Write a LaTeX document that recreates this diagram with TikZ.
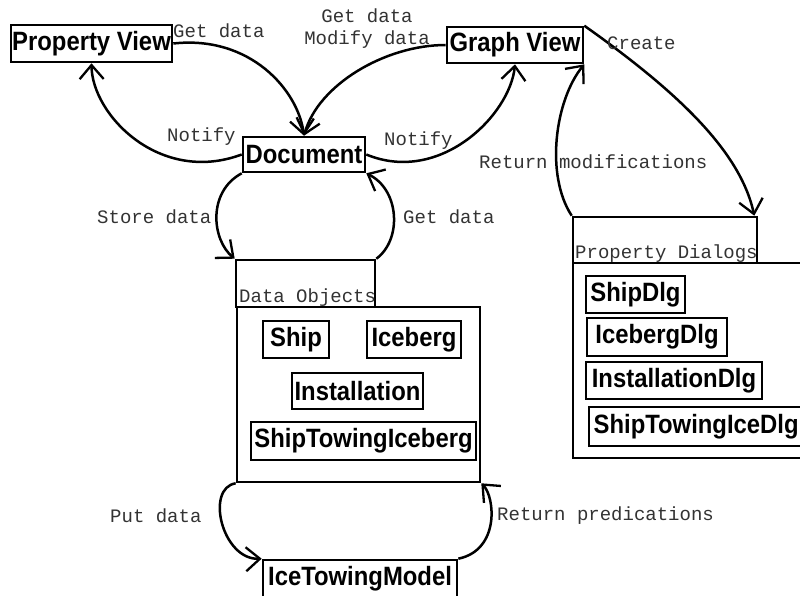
\documentclass[tikz,border=0pt]{standalone}
\usepackage{fontspec}
\usepackage{graphicx}
\newfontfamily\monofnt{Liberation Mono}
\newfontfamily\sansfnt{Liberation Sans}
\newcommand{\narrow}[1]{\scalebox{0.9}[1]{#1}}
\usetikzlibrary{arrows.meta,calc}
\begin{document}
\begin{tikzpicture}[x=1pt,y=-1pt,
  box/.style={draw, line width=2.6pt, inner sep=0pt,
    font=\sansfnt\bfseries\fontsize{26.5}{28}\selectfont},
  item/.style={draw, line width=2.2pt, inner sep=0pt,
    font=\sansfnt\bfseries\fontsize{26.5}{28}\selectfont},
  pkg/.style={draw, line width=2.6pt, inner sep=0pt},
  lbl/.style={inner sep=0pt, text=black!80,
    font=\monofnt\fontsize{19}{22}\selectfont},
  flow/.style={line width=2.5pt,
    -{Straight Barb[length=14pt,width=24pt,line width=2.3pt]}}
]
\useasboundingbox (0,0) rectangle (800,596);
\fill[white] (0,0) rectangle (800,596);

% top level views and the document
\node[box, minimum width=161pt, minimum height=37pt] (pv) at (91.5,43.5) {\narrow{Property View}};
\node[box, minimum width=122pt, minimum height=35pt] (doc) at (304,154.5) {\narrow{Document}};
\node[box, minimum width=136pt, minimum height=36pt] (gv) at (515,45) {\narrow{Graph View}};

% Data Objects package
\node[pkg, minimum width=139pt, minimum height=47pt] (dotab) at (305.5,283.5) {};
\node[pkg, minimum width=243pt, minimum height=175pt] (dobody) at (358.5,394.5) {};
\node[lbl, anchor=base west] (dolbl) at (239,302) {Data Objects};
\node[item, minimum width=66pt, minimum height=37pt] (ship) at (296,339.5) {\narrow{Ship}};
\node[item, minimum width=94pt, minimum height=37pt] (ice) at (414,339.5) {\narrow{Iceberg}};
\node[item, minimum width=131pt, minimum height=36pt] (inst) at (357.5,391) {\narrow{Installation}};
\node[item, minimum width=225pt, minimum height=38pt] (sti) at (363.5,441) {\narrow{ShipTowingIceberg}};

% Property Dialogs package (runs past the right edge)
\node[pkg, minimum width=184pt, minimum height=46pt] (pdtab) at (665,240) {};
\node[lbl, anchor=base west] (pdlbl) at (575,258) {Property Dialogs};
\begin{scope}
  \clip (0,0) rectangle (800,596);
  \node[pkg, minimum width=254pt, minimum height=195pt] (pdbody) at (700,360.5) {};
  \node[item, minimum width=99pt, minimum height=37pt] (shipdlg) at (635.5,294.5) {\narrow{ShipDlg}};
  \node[item, minimum width=140pt, minimum height=38pt] (icedlg) at (657,337) {\narrow{IcebergDlg}};
  \node[item, minimum width=176pt, minimum height=37pt] (instdlg) at (674,380.5) {\narrow{InstallationDlg}};
  \node[item, minimum width=216pt, minimum height=39pt, anchor=west] (stidlg) at (588,426.5) {\hspace*{2pt}\narrow{ShipTowingIceDlg}\hspace*{4pt}};
  \node[box, minimum width=194pt, minimum height=38pt] (itm) at (360,579) {\narrow{IceTowingModel}};
\end{scope}

% connectors
\draw[flow] (pv.east) .. controls (250,35) and (298,90) .. (doc.north);
\draw[flow] (gv.west) .. controls (385,45) and (318,85) .. (doc.north);
\draw[flow] (doc.west) .. controls (160,185) and (92,115) .. (pv.south);
\draw[flow] (doc.east) .. controls (440,185) and (510,115) .. (gv.south);
\draw[flow] (gv.north east) .. controls (675,90) and (740,150) .. ($(pdtab.north east)+(-4,0)$);
\draw[flow] (pdtab.north west) .. controls (545,175) and (555,100) .. (gv.south east);
\draw[flow] (doc.south west) .. controls (207,192) and (212,240) .. (dotab.north west);
\draw[flow] (dotab.north east) .. controls (402,240) and (400,190) .. (doc.south east);
\draw[flow] (dobody.south west) .. controls (205,488) and (222,560) .. (itm.north west);
\draw[flow] (itm.north east) .. controls (500,550) and (495,497) .. (dobody.south east);

% connector labels
\node[lbl, anchor=west] (l1) at (173,31) {Get data};
\node[lbl, align=center] (l2) at (367,29) {Get data\\Modify data};
\node[lbl, anchor=west] (l3) at (167,137) {Notify};
\node[lbl, anchor=west] (l4) at (384,141) {Notify};
\node[lbl, anchor=west] (l5) at (607,43) {Create};
\node[lbl, anchor=west] (l6) at (479,162) {Return modifications};
\node[lbl, anchor=west] (l7) at (97,217) {Store data};
\node[lbl, anchor=west] (l8) at (403,217) {Get data};
\node[lbl, anchor=west] (l9) at (110,516) {Put data};
\node[lbl, anchor=west] (l10) at (497,516) {Return predications};
\end{tikzpicture}
\end{document}
